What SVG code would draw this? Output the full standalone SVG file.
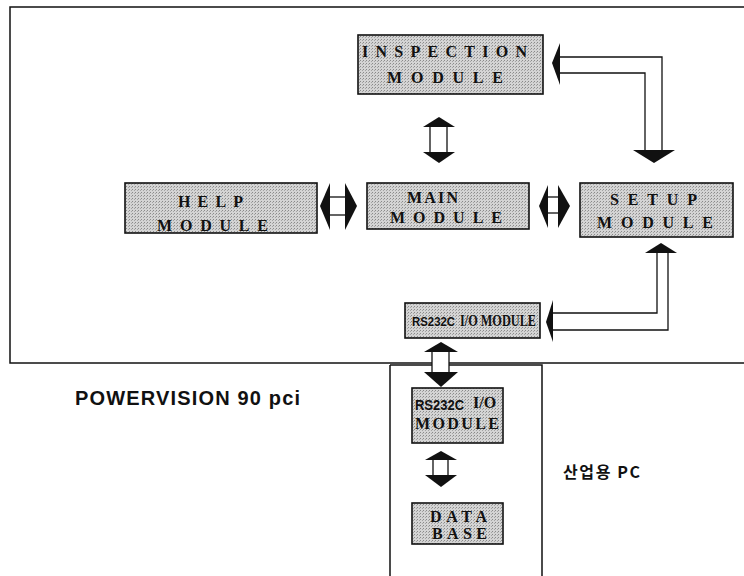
<svg xmlns="http://www.w3.org/2000/svg" width="744" height="576" viewBox="0 0 744 576">
<defs>
<pattern id="dots" width="3" height="3" patternUnits="userSpaceOnUse">
<rect width="3" height="3" fill="#d4d4d4"/>
<rect width="1" height="1" fill="#8a8a8a"/>
<rect x="2" y="1" width="1" height="1" fill="#a4a4a4"/>
</pattern>
<style>
.box{fill:url(#dots);stroke:#111;stroke-width:1.6}
.t{font-family:"Liberation Serif","Times New Roman",serif;font-weight:bold;font-size:16px;fill:#111}
.s{font-family:"Liberation Sans",Arial,sans-serif;font-weight:bold;fill:#111}
.frame{fill:none;stroke:#111;stroke-width:1.5}
.shaft{fill:#fff;stroke:#111;stroke-width:1.3}
.line{fill:none;stroke:#111;stroke-width:1.3}
.head{fill:#111}
</style>
</defs>
<rect width="744" height="576" fill="#fff"/>

<g id="frames">
<rect class="frame" x="10" y="7" width="745" height="356"/>
<path class="frame" d="M390,365 V580 M390,365 H542 V580"/>
</g>

<g id="inspection">
<rect class="box" x="358" y="35" width="185" height="59"/>
<text class="t" x="362" y="57" font-size="15" textLength="165" lengthAdjust="spacing">INSPECTION</text>
<text class="t" x="387" y="83" textLength="116" lengthAdjust="spacing">MODULE</text>
</g>

<g id="help">
<rect class="box" x="125" y="183" width="192" height="50"/>
<text class="t" x="178" y="207" textLength="65" lengthAdjust="spacing">HELP</text>
<text class="t" x="157" y="231" textLength="111" lengthAdjust="spacing">MODULE</text>
</g>

<g id="main">
<rect class="box" x="367" y="183" width="162" height="46"/>
<text class="t" x="407" y="203" textLength="51" lengthAdjust="spacing">MAIN</text>
<text class="t" x="390" y="223" textLength="112" lengthAdjust="spacing">MODULE</text>
</g>

<g id="setup">
<rect class="box" x="580" y="183" width="153" height="54"/>
<text class="t" x="610" y="205" textLength="87" lengthAdjust="spacing">SETUP</text>
<text class="t" x="597" y="228" textLength="116" lengthAdjust="spacing">MODULE</text>
</g>

<g id="rs232c-upper">
<rect class="box" x="405" y="303" width="135" height="35"/>
<text class="s" x="412" y="326" font-size="12" textLength="43" lengthAdjust="spacingAndGlyphs">RS232C</text>
<text class="t" x="460" y="326" font-size="15" textLength="76" lengthAdjust="spacingAndGlyphs">I/O MODULE</text>
</g>

<g id="rs232c-lower">
<rect class="box" x="412" y="388" width="91" height="55"/>
<text class="s" x="415" y="410" font-size="14" textLength="49" lengthAdjust="spacingAndGlyphs">RS232C</text>
<text class="t" x="473" y="408" font-size="12" font-weight="normal">I/O</text>
<text class="t" x="415" y="429" font-size="15" textLength="84" lengthAdjust="spacing">MODULE</text>
</g>

<g id="database">
<rect class="box" x="412" y="503" width="91" height="41"/>
<text class="t" x="430" y="522" font-size="15" textLength="57" lengthAdjust="spacing">DATA</text>
<text class="t" x="432" y="539" font-size="15" textLength="55" lengthAdjust="spacing">BASE</text>
</g>

<g id="labels">
<text class="s" x="75" y="405" font-size="20" textLength="225" lengthAdjust="spacing">POWERVISION 90 pci</text>
<text x="563" y="478" font-family="'Noto Sans CJK KR','Noto Sans',sans-serif" font-size="16" font-weight="bold" fill="#111" textLength="77" lengthAdjust="spacing">산업용 PC</text>
</g>

<g id="connectors">
<!-- INSPECTION <-> MAIN -->
<rect class="shaft" x="430" y="126" width="17" height="27"/>
<polygon class="head" points="439,117 455,127 423,127"/>
<polygon class="head" points="423,152 455,152 439,163"/>

<!-- HELP <-> MAIN -->
<rect class="shaft" x="329" y="197" width="17" height="18"/>
<polygon class="head" points="320,206 330,183 330,230"/>
<polygon class="head" points="357,206 345,183 345,230"/>

<!-- MAIN <-> SETUP -->
<rect class="shaft" x="547" y="197" width="12" height="16"/>
<polygon class="head" points="539,206 548,185 548,228"/>
<polygon class="head" points="570,206 558,185 558,228"/>

<!-- INSPECTION <-> SETUP (L-shaped) -->
<path class="line" d="M559,57 H662 V151 M559,73 H645 V151"/>
<polygon class="head" points="552,63 560,43 560,85"/>
<polygon class="head" points="633,150 675,150 654,163"/>

<!-- RS232C <-> SETUP (L-shaped) -->
<path class="line" d="M552,313 H657 V252 M552,330 H668 V252"/>
<polygon class="head" points="661,243 677,253 645,253"/>
<polygon class="head" points="546,322 553,300 553,342"/>

<!-- RS232C upper <-> RS232C lower -->
<rect class="shaft" x="432" y="351" width="17" height="22"/>
<polygon class="head" points="441,342 458,352 424,352"/>
<polygon class="head" points="424,372 458,372 441,387"/>

<!-- RS232C lower <-> DATA BASE -->
<rect class="shaft" x="433" y="459" width="15" height="17"/>
<polygon class="head" points="441,451 457,460 425,460"/>
<polygon class="head" points="425,475 457,475 441,487"/>
</g>
</svg>
